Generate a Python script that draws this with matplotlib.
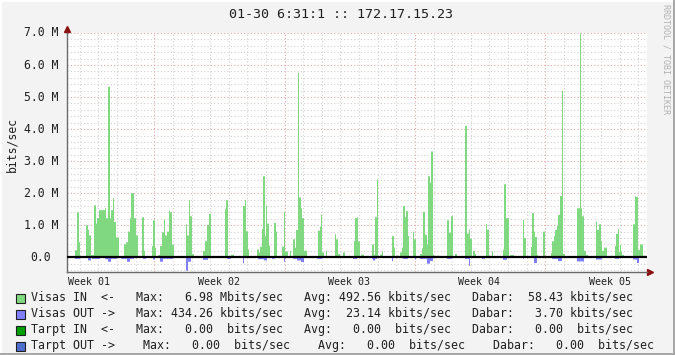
import numpy as np
import matplotlib
matplotlib.use("Agg")
import matplotlib.pyplot as plt
from matplotlib.patches import Rectangle
from matplotlib.transforms import blended_transform_factory

W, H = 675, 355
MONO = "DejaVu Sans Mono"

TITLE = "01-30 6:31:1 :: 172.17.15.23"
WATERMARK = "RRDTOOL / TOBI OETIKER"
Y_LABEL = "bits/sec"

# time axis: one sample per pixel column of the rrd graph
N_SAMPLES = 580
SAMPLES_PER_WEEK = 130.33
FIRST_WEEK_LINE = 87.3
FIRST_WEEK_LABEL = 21.5
week_labels = ["Week 01", "Week 02", "Week 03", "Week 04", "Week 05"]

y_ticks = [0, 1, 2, 3, 4, 5, 6, 7]
y_tick_labels = ["0.0", "1.0 M", "2.0 M", "3.0 M", "4.0 M", "5.0 M", "6.0 M", "7.0 M"]

# Visas IN (Mbit/s): (first sample, consecutive sample values)
in_bursts = [
    (8, [0.22, 0.22, 1.40, 1.40, 0.47]),
    (19, [1.0, 1.0, 0.85, 0.68, 0.68, 0.07, 0.07, 0.07, 1.62, 1.62, 1.05, 1.22, 1.22,
          1.47, 1.47, 1.47, 1.47, 1.47, 1.47, 1.53, 1.22, 1.22, 5.32, 5.32, 1.22,
          1.47, 1.47, 1.84, 1.10, 1.10, 0.62, 0.62, 0.62]),
    (57, [0.4, 0.4, 0.47, 0.47, 0.8, 0.8, 1.22, 2.0, 2.0, 2.0, 1.22, 1.22, 0.68, 0.68]),
    (75, [1.25, 1.25, 0.2]),
    (85, [0.35, 1.15, 1.15, 0.3]),
    (91, [0.07, 0.07, 0.35, 0.35, 0.78, 0.78, 1.17, 0.68, 0.68, 0.8, 0.8, 1.45, 1.4,
          1.4, 0.4, 0.4, 0.03, 0.03]),
    (119, [1.03, 0.68, 0.68, 1.78, 1.28, 1.28, 0.1, 0.1]),
    (136, [0.2, 0.2, 0.5, 0.5, 1.0, 1.0, 1.35, 1.35]),
    (158, [1.5, 1.78, 1.78]),
    (164, [0.08, 0.08, 0.08]),
    (176, [1.6, 1.6, 1.78, 0.81, 0.81, 0.24]),
    (186, [0.03]),
    (190, [0.24, 0.24, 0.15, 0.33, 0.33, 0.88, 2.53, 2.53, 0.66, 1.6, 1.05, 1.05, 0.36]),
    (207, [1.07, 1.07, 0.8]),
    (215, [0.33, 0.33, 1.42, 0.18, 0.18, 0.18]),
    (223, [0.2]),
    (226, [0.56, 0.56, 0.3, 0.85, 0.85, 5.76, 1.87, 1.87, 1.53, 1.22, 1.22, 0.2, 0.2, 0.2]),
    (251, [0.83, 0.83, 0.96, 1.33, 0.15, 0.15]),
    (259, [0.2]),
    (268, [0.72, 0.56, 0.56, 0.1, 0.1]),
    (276, [0.15, 0.15]),
    (287, [0.5, 1.22, 1.22, 1.25, 0.5, 0.5]),
    (294, [0.08, 0.08, 0.08]),
    (305, [0.4, 0.4, 0.08, 1.25, 1.25, 2.43, 0.03, 0.03, 0.08, 0.08, 0.18]),
    (325, [0.66, 0.66, 0.3]),
    (330, [0.05, 0.05, 0.0, 0.15, 0.15, 0.3, 1.6, 1.6, 1.25, 1.44, 1.44, 0.66]),
    (346, [0.8, 0.56, 0.56]),
    (353, [0.1, 0.1, 0.28, 1.42, 1.42, 0.7, 0.7, 0.4, 2.53, 2.53, 2.33, 3.3, 3.3, 0.08]),
    (370, [0.05, 0.05]),
    (380, [1.15, 1.15, 0.77, 0.77, 1.28, 1.28]),
    (388, [0.1, 0.1]),
    (398, [4.1, 4.1, 0.74, 0.74, 0.86, 0.58, 0.58, 0.0, 0.2, 0.2, 0.1]),
    (419, [1.03, 0.86, 0.86]),
    (425, [0.18]),
    (436, [0.23, 2.28, 2.28, 1.22, 1.22, 1.22]),
    (443, [0.07, 0.07, 0.07, 0.07]),
    (456, [1.16, 0.6, 0.6]),
    (463, [0.03, 0.32, 1.38, 1.38, 0.8, 0.63, 0.63, 0.07]),
    (476, [0.8, 0.8]),
    (484, [0.13, 0.5, 0.5, 0.66, 0.85, 0.85, 0.98, 1.32, 1.32, 1.91, 1.91, 5.19, 0.1, 0.1]),
    (510, [1.53, 1.53, 1.53, 6.98, 1.53, 1.28, 1.28, 0.2, 0.2, 0.07, 0.07]),
    (529, [1.12, 0.85, 0.85, 1.03, 1.03, 0.5, 0.2, 0.2, 0.3, 0.3, 0.3]),
    (544, [0.05, 0.05]),
    (548, [0.35, 0.73, 0.73, 0.88, 0.17, 0.38, 0.17, 0.07, 0.07]),
    (566, [1.03, 1.03, 1.91, 1.88, 1.88, 0.23, 0.23, 0.4, 0.4, 0.4, 0.05, 0.05]),
]

# Visas OUT (Mbit/s), drawn below zero
out_bursts = [
    (8, [0.05] * 5),
    (21, [0.10] * 3),
    (25, [0.05] * 8),
    (38, [0.06, 0.06, 0.06, 0.14, 0.14, 0.14, 0.05, 0.05, 0.05, 0.05, 0.05, 0.05]),
    (54, [0.05] * 6 + [0.14] * 3 + [0.05] * 4),
    (76, [0.05] * 3),
    (86, [0.07, 0.07]),
    (93, [0.14] * 3 + [0.05] * 10),
    (119, [0.42, 0.42, 0.14, 0.14, 0.14]),
    (136, [0.08] * 5),
    (160, [0.05] * 4),
    (176, [0.19]),
    (191, [0.06] * 6 + [0.10] * 3),
    (205, [0.05] * 3),
    (217, [0.14]),
    (226, [0.05] * 4 + [0.10] * 4 + [0.15] * 3),
    (250, [0.05] * 5),
    (286, [0.05] * 4),
    (305, [0.05, 0.10, 0.10, 0.05, 0.05]),
    (325, [0.12]),
    (336, [0.05] * 5),
    (348, [0.07]),
    (353, [0.05] * 7 + [0.20] * 3 + [0.12] * 3),
    (380, [0.05] * 5),
    (398, [0.05] * 4 + [0.27]),
    (415, [0.05] * 3),
    (436, [0.08] * 4),
    (456, [0.05]),
    (467, [0.18] * 3),
    (485, [0.05] * 6 + [0.12] * 4),
    (510, [0.13] * 7),
    (529, [0.07] * 6),
    (548, [0.05] * 4),
    (566, [0.07] * 4 + [0.18] * 2),
]

legend_rows = [
    ("#80d880", "Visas IN  <-   Max:   6.98 Mbits/sec   Avg: 492.56 kbits/sec   Dabar:  58.43 kbits/sec"),
    ("#8080ff", "Visas OUT ->   Max: 434.26 kbits/sec   Avg:  23.14 kbits/sec   Dabar:   3.70 kbits/sec"),
    ("#00a000", "Tarpt IN  <-   Max:   0.00  bits/sec   Avg:   0.00  bits/sec   Dabar:   0.00  bits/sec"),
    ("#4f6fcf", "Tarpt OUT ->    Max:   0.00  bits/sec    Avg:   0.00  bits/sec    Dabar:   0.00  bits/sec"),
]

C_IN = "#80d880"
C_OUT = "#8080ff"
BG = "#f3f3f3"
GRID_MINOR = "#d2d2d2"
GRID_MAJOR = "#e0a8a8"
AXIS_COLOR = "#6a6a6a"
ARROW_COLOR = "#8b1010"


def fx(x):
    return x / W


def fy(y):
    return 1 - y / H


def fill(bursts):
    arr = np.zeros(N_SAMPLES)
    for start, vals in bursts:
        arr[start:start + len(vals)] = vals
    return arr


visas_in = fill(in_bursts)
visas_out = fill(out_bursts)
edges = np.arange(N_SAMPLES + 1)

Y_MIN, Y_MAX = -0.46, 7.0

fig = plt.figure(figsize=(W / 100, H / 100), dpi=100, facecolor=BG)
ax = fig.add_axes([fx(67), fy(272), fx(580), (272 - 33) / H])
ax.set_facecolor("white")
ax.set_xlim(0, N_SAMPLES)
ax.set_ylim(Y_MIN, Y_MAX)

# grid: minor every 0.2 M / day, major every 1 M / week
dot = (0, (1, 2))
for v in np.arange(-0.4, 7.01, 0.2):
    major = abs(v - round(v)) < 1e-6
    if major and round(v) == 0:
        continue
    ax.axhline(v, color=GRID_MAJOR if major else GRID_MINOR, lw=0.8, ls=dot, zorder=0)
day = SAMPLES_PER_WEEK / 7
for k in range(-4, 40):
    x = FIRST_WEEK_LINE + k * day
    if 0 < x < N_SAMPLES:
        ax.axvline(x, color=GRID_MAJOR if k % 7 == 0 else GRID_MINOR, lw=0.8, ls=dot,
                   zorder=0)

ax.stairs(visas_in, edges, baseline=0, fill=True, color=C_IN, lw=0, snap=False,
          zorder=2)
ax.stairs(-visas_out, edges, baseline=0, fill=True, color=C_OUT, lw=0, snap=False,
          zorder=2)
ax.axhline(0, color="black", lw=1.6, zorder=3)

for s in ("top", "right"):
    ax.spines[s].set_visible(False)
for s in ("left", "bottom"):
    ax.spines[s].set_color(AXIS_COLOR)
    ax.spines[s].set_linewidth(1.0)
ax.set_xticks([])
ax.set_yticks([])

# axis arrows
ax.plot([0, 0], [Y_MAX, Y_MAX + 0.12], color=AXIS_COLOR, lw=1, clip_on=False)
ax.plot(0, Y_MAX + 0.13, marker="^", color=ARROW_COLOR, ms=4, clip_on=False)
ax.plot([N_SAMPLES, N_SAMPLES + 2], [Y_MIN, Y_MIN], color=AXIS_COLOR, lw=1, clip_on=False)
ax.plot(N_SAMPLES + 3, Y_MIN, marker=">", color=ARROW_COLOR, ms=4, clip_on=False)

# y tick labels, centered left of axis like rrdtool
ty = blended_transform_factory(fig.transFigure, ax.transData)
for v, lab in zip(y_ticks, y_tick_labels):
    fig.text(fx(41), v, lab, transform=ty, ha="center", va="center",
             family=MONO, fontsize=8.3, color="#202020")

# week labels
tx = blended_transform_factory(ax.transData, fig.transFigure)
for k, lab in enumerate(week_labels):
    ax.text(FIRST_WEEK_LABEL + k * SAMPLES_PER_WEEK, fy(282), lab, transform=tx,
            ha="center", va="center", family=MONO, fontsize=7.2, color="#202020")

fig.text(fx(12), fy(144), Y_LABEL, rotation=90, ha="center", va="center",
         family=MONO, fontsize=8.3, color="#202020")
fig.text(fx(341), fy(14), TITLE, ha="center", va="center", family=MONO,
         fontsize=9.6, color="#202020")
fig.text(fx(666), fy(4), WATERMARK, rotation=270, ha="center", va="top",
         family=MONO, fontsize=6, color="#b0b0b0")

# legend
for i, (col, text) in enumerate(legend_rows):
    y = 298 + 16 * i
    fig.add_artist(Rectangle((fx(16), fy(y + 4.5)), 9 / W, 9 / H,
                             transform=fig.transFigure, facecolor=col,
                             edgecolor="#202020", lw=0.8))
    fig.text(fx(31), fy(y), text, ha="left", va="center", family=MONO,
             fontsize=8.4, color="#202020")

# rrdtool 3d frame
fig.add_artist(Rectangle((0, 0), 1, 1, transform=fig.transFigure, fill=False,
                         edgecolor="#ffffff", lw=2))
fig.add_artist(Rectangle((1 - 2 / W, 0), 2 / W, 1, transform=fig.transFigure,
                         facecolor="#a8a8a8", lw=0))
fig.add_artist(Rectangle((0, 0), 1, 2 / H, transform=fig.transFigure,
                         facecolor="#a8a8a8", lw=0))

fig.savefig("out.png", dpi=100, facecolor=BG)
